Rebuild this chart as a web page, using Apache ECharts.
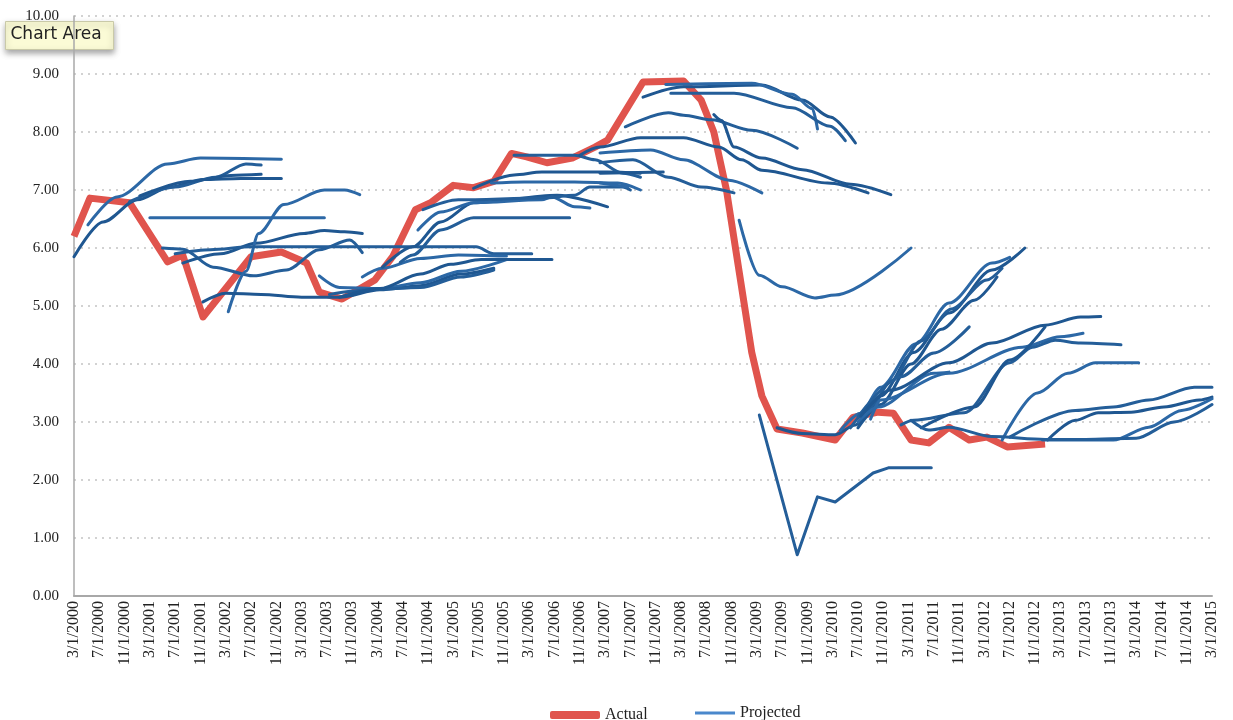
<!DOCTYPE html>
<html>
<head>
<meta charset="UTF-8">
<script src="https://cdn.jsdelivr.net/npm/echarts@6/dist/echarts.min.js"></script>
<style>
  html, body { margin: 0; padding: 0; background: #fff; }
  #main { width: 1233px; height: 720px; }
</style>
</head>
<body>
<div id="main"></div>
<script>
// x positions are in label-index units (one step = 4 months)
const xLabels = [
  '3/1/2000','7/1/2000','11/1/2000','3/1/2001','7/1/2001','11/1/2001',
  '3/1/2002','7/1/2002','11/1/2002','3/1/2003','7/1/2003','11/1/2003',
  '3/1/2004','7/1/2004','11/1/2004','3/1/2005','7/1/2005','11/1/2005',
  '3/1/2006','7/1/2006','11/1/2006','3/1/2007','7/1/2007','11/1/2007',
  '3/1/2008','7/1/2008','11/1/2008','3/1/2009','7/1/2009','11/1/2009',
  '3/1/2010','7/1/2010','11/1/2010','3/1/2011','7/1/2011','11/1/2011',
  '3/1/2012','7/1/2012','11/1/2012','3/1/2013','7/1/2013','11/1/2013',
  '3/1/2014','7/1/2014','11/1/2014','3/1/2015'
];

const actual = [
  [0,6.2],[0.63,6.86],[2.2,6.78],[3.7,5.76],[4.3,5.88],[5.1,4.81],[7.0,5.85],
  [8.2,5.93],[9.2,5.74],[9.7,5.24],[10.6,5.12],[11.9,5.45],[12.6,5.85],[13.5,6.66],
  [14.1,6.78],[15.0,7.08],[15.8,7.04],[16.6,7.15],[17.3,7.63],[17.9,7.57],[18.7,7.47],
  [19.7,7.55],[20.6,7.74],[21.1,7.86],[22.5,8.86],[24.1,8.88],[24.8,8.55],[25.3,8.0],
  [25.8,7.0],[26.3,5.6],[26.8,4.2],[27.2,3.45],[27.8,2.88],[28.8,2.81],[30.1,2.69],
  [30.8,3.08],[31.8,3.17],[32.4,3.15],[33.1,2.69],[33.8,2.64],[34.6,2.91],[35.4,2.69],
  [36.1,2.74],[36.9,2.57],[38.4,2.62]
];

const projected = [
  // 2000-2001 forecasts
  [[0,5.85],[1.15,6.45],[2.5,6.83],[3.8,7.05],[5.1,7.18],[6.6,7.2],[8.2,7.2]],
  [[0.55,6.4],[1.7,6.88],[3.7,7.45],[5.0,7.55],[8.2,7.53]],
  [[2.2,6.8],[4.0,7.05],[5.6,7.22],[6.8,7.45],[7.4,7.43]],
  [[2.6,6.9],[4.6,7.15],[6.2,7.25],[7.4,7.27]],
  [[3.0,6.52],[9.9,6.52]],
  [[3.5,6.0],[4.3,5.98],[5.5,5.67],[7.1,5.52],[8.4,5.62],[9.7,5.97],[10.9,6.14],[11.4,5.92]],
  [[4.3,5.74],[5.8,5.9],[7.2,6.08],[9.1,6.25],[9.9,6.3],[10.7,6.28],[11.4,6.25]],
  [[6.1,4.9],[6.8,5.6],[7.3,6.25],[8.3,6.75],[9.9,7.0],[10.7,7.0],[11.3,6.92]],
  [[4.0,5.9],[5.4,5.97],[7.0,6.02],[9.0,6.02],[15.9,6.02],[16.6,5.9],[18.1,5.9]],
  [[5.1,5.07],[6.0,5.22],[7.4,5.2],[9.0,5.15],[10.5,5.15],[12.1,5.28],[13.7,5.35],[15.3,5.55],[16.6,5.65]],
  // 2003-2004 forecasts
  [[9.7,5.52],[10.5,5.32],[12.1,5.3],[13.7,5.4],[15.3,5.6],[17.1,5.8]],
  [[10.1,5.2],[11.7,5.28],[13.7,5.32],[15.3,5.5],[16.6,5.62]],
  [[10.5,5.15],[12.1,5.3],[13.7,5.55],[14.9,5.72],[16.1,5.8],[18.9,5.8]],
  [[11.4,5.5],[12.2,5.65],[13.7,5.82],[15.2,5.88],[17.1,5.86]],
  [[12.9,5.75],[13.4,5.88],[14.5,6.31],[15.8,6.52],[19.6,6.52]],
  [[12.2,5.67],[13.4,6.02],[14.5,6.45],[15.8,6.78],[19.1,6.91],[21.1,6.71]],
  [[13.6,6.31],[14.5,6.62],[15.8,6.78],[18.5,6.83],[18.9,6.88],[19.8,6.71],[20.4,6.69]],
  [[13.8,6.66],[15.2,6.83],[18.5,6.86],[19.8,6.91],[20.4,7.05],[21.7,7.05],[22.0,7.0]],
  // 2005-2007 forecasts
  [[15.8,7.03],[17.4,7.26],[18.5,7.31],[21.1,7.31],[22.4,7.29]],
  [[16.5,7.12],[17.8,7.14],[19.8,7.14],[21.5,7.12],[22.4,7.0]],
  [[17.4,7.6],[19.8,7.6],[20.6,7.52],[21.7,7.29],[22.4,7.22]],
  [[20.0,7.6],[20.8,7.74],[22.4,7.9],[24.1,7.9],[25.5,7.74],[26.4,7.52],[27.2,7.34],[29.8,7.12],[31.4,6.95]],
  [[20.8,7.64],[22.8,7.69],[24.1,7.52],[25.9,7.17],[27.2,6.95]],
  [[20.8,7.47],[22.1,7.52],[23.5,7.22],[24.8,7.05],[26.1,6.95]],
  [[20.8,7.29],[23.3,7.31]],
  [[20.8,7.12],[21.9,7.05]],
  [[21.8,8.09],[23.5,8.33],[24.1,8.29],[25.2,8.21],[26.8,8.03],[28.6,7.72]],
  [[22.5,8.6],[24.1,8.78],[27.2,8.81],[28.8,8.55],[29.9,8.26],[30.9,7.81]],
  [[23.4,8.82],[26.8,8.84],[28.4,8.65],[29.2,8.4],[29.4,8.05]],
  [[23.6,8.67],[26.1,8.67],[28.4,8.42],[29.9,8.1],[30.5,7.85]],
  [[25.3,8.3],[25.6,8.2],[26.1,7.74],[27.2,7.55],[28.8,7.35],[30.7,7.1],[32.3,6.92]],
  // 2008-2009 forecasts
  [[26.3,6.48],[27.1,5.53],[28.0,5.33],[29.3,5.14],[30.1,5.19],[33.1,6.0]],
  [[27.1,3.12],[28.6,0.71],[29.4,1.71],[30.1,1.62],[31.6,2.12],[32.2,2.21],[33.9,2.21]],
  [[27.8,2.9],[28.8,2.8],[30.1,2.78],[30.9,2.95],[31.9,3.45],[33.2,4.2],[34.6,4.88],[36.3,5.62],[37.6,6.0]],
  [[30.3,2.85],[31.1,3.15],[31.9,3.6],[33.3,4.35],[34.6,5.05],[36.3,5.74],[37.0,5.84]],
  [[30.7,2.9],[31.5,3.25],[32.3,3.7],[33.5,4.4],[34.7,4.95],[36.1,5.45],[36.7,5.65]],
  [[31.0,2.9],[31.9,3.3],[33.1,4.0],[34.3,4.6],[35.6,5.1],[36.5,5.5]],
  // 2010-2014 forecasts
  [[31.0,3.0],[31.8,3.26],[34.0,3.84],[34.6,3.86]],
  [[31.0,3.09],[32.7,3.78],[34.0,4.19],[35.4,4.64]],
  [[31.1,3.1],[32.3,3.55],[34.6,4.02],[36.3,4.36],[38.4,4.67],[39.8,4.81],[40.6,4.82]],
  [[31.5,3.05],[31.9,3.38],[34.6,3.84],[37.5,4.29],[39.0,4.47],[39.9,4.53]],
  [[32.7,2.95],[33.2,3.03],[35.2,3.16],[37.0,4.02],[37.9,4.29],[38.8,4.41],[39.8,4.36],[41.4,4.33]],
  [[33.5,2.9],[35.6,3.26],[37.0,4.07],[38.4,4.64]],
  [[36.7,2.69],[38.1,3.5],[39.3,3.84],[40.4,4.02],[42.1,4.02]],
  [[37.0,2.74],[39.6,3.2],[41.1,3.26],[42.5,3.38],[44.3,3.6],[45,3.6]],
  [[38.5,2.69],[39.6,3.03],[40.5,3.16],[41.8,3.17],[43.1,3.26],[44.5,3.38],[45,3.43]],
  [[38.3,2.69],[41.1,2.69],[42.5,2.91],[43.8,3.2],[45,3.4]],
  [[33.1,3.03],[33.8,2.86],[34.6,2.91],[36.3,2.75],[38.4,2.7],[40.0,2.7],[42.0,2.72],[43.5,3.0],[45,3.3]]
];

// forecasts drawn with sharp corners (no smoothing)
const sharpLines = [32];

const serif = '"Liberation Serif", "DejaVu Serif", serif';
const blues = ['#1f5791', '#2c68a6', '#245e99'];

const chart = echarts.init(document.getElementById('main'));

const series = [{
  name: 'Actual',
  type: 'line',
  data: actual,
  symbol: 'none',
  lineStyle: { width: 7, color: '#e0544d', join: 'round' },
  itemStyle: { color: '#e0544d' },
  z: 2,
  silent: true
}].concat(projected.map((pts, k) => ({
  name: 'Projected',
  type: 'line',
  data: pts,
  symbol: 'none',
  smooth: sharpLines.includes(k) ? false : 0.3,
  smoothMonotone: 'x',
  lineStyle: { width: 3, color: blues[k % 3], cap: 'round', join: 'round' },
  itemStyle: { color: '#4a88cc' },
  z: 3,
  silent: true
})));

chart.setOption({
  animation: false,
  backgroundColor: '#fff',
  grid: { left: 74, right: 21, top: 16, bottom: 124 },
  xAxis: {
    type: 'value',
    min: 0,
    max: 45,
    interval: 1,
    axisLine: { lineStyle: { color: '#a8a8a8', width: 2 } },
    axisTick: { show: false },
    splitLine: { show: false },
    axisLabel: {
      rotate: 90,
      margin: 5,
      fontFamily: serif,
      fontSize: 16,
      color: '#222',
      formatter: v => xLabels[v]
    }
  },
  yAxis: {
    type: 'value',
    min: 0,
    max: 10,
    interval: 1,
    axisLine: { show: true, lineStyle: { color: '#a8a8a8', width: 1.5 } },
    axisTick: { show: false },
    splitLine: { lineStyle: { color: '#d2d2d2', width: 2, type: [2, 5] } },
    axisLabel: {
      margin: 15,
      fontFamily: serif,
      fontSize: 15,
      color: '#222',
      formatter: v => v.toFixed(2)
    }
  },
  legend: [
    {
      data: [{ name: 'Actual', icon: 'roundRect', itemStyle: { color: '#e0544d' } }],
      left: 545, top: 702,
      itemWidth: 50, itemHeight: 8, itemGap: 2,
      selectedMode: false,
      textStyle: { fontFamily: serif, fontSize: 16, color: '#222', padding: [6, 0, 0, 0] }
    },
    {
      data: [{ name: 'Projected', icon: 'rect', itemStyle: { color: '#4a88cc' } }],
      left: 690, top: 700,
      itemWidth: 40, itemHeight: 3, itemGap: 2,
      selectedMode: false,
      textStyle: { fontFamily: serif, fontSize: 16, color: '#222' }
    }
  ],
  graphic: [{
    type: 'group',
    left: 5, top: 21, z: 100,
    children: [
      {
        type: 'rect',
        shape: { x: 0, y: 0, width: 108, height: 28 },
        style: {
          fill: '#fbfbd6', stroke: '#c9c9a8', lineWidth: 1,
          shadowBlur: 6, shadowOffsetY: 3, shadowColor: 'rgba(0,0,0,0.35)'
        }
      },
      {
        type: 'text',
        left: 5, top: 5,
        style: { text: 'Chart Area', font: '17px "DejaVu Sans", sans-serif', fill: '#222' }
      }
    ]
  }],
  series: series
});
</script>
</body>
</html>
